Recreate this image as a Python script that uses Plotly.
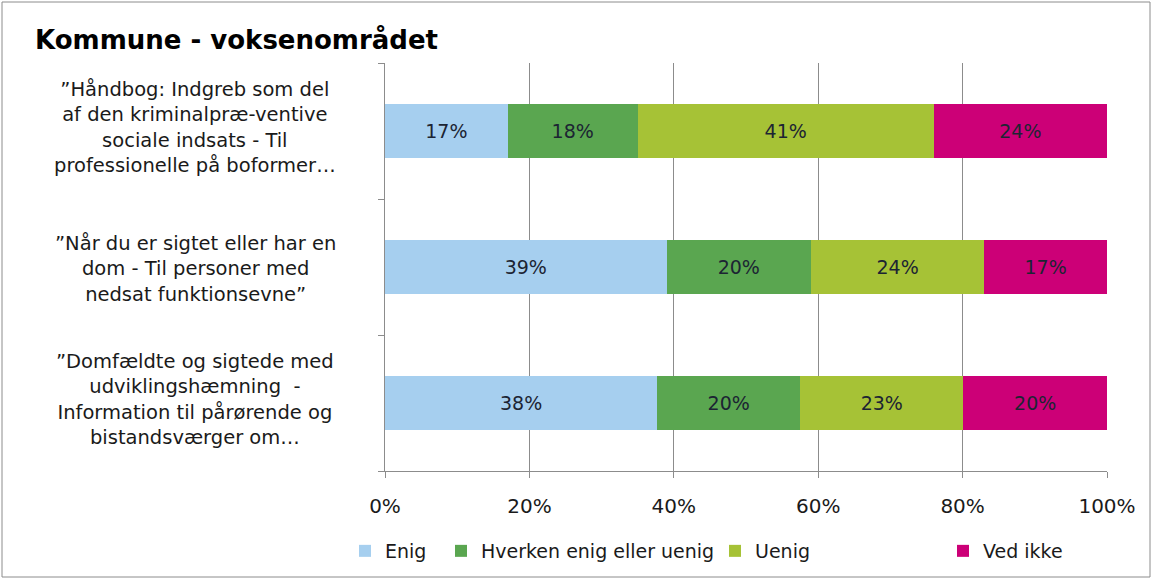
import plotly.graph_objects as go

# Survey statements (top to bottom) and answer shares in percent
categories = [
    "”Håndbog: Indgreb som del<br>af den kriminalpræ-ventive<br>sociale indsats - Til<br>professionelle på boformer…",
    "”Når du er sigtet eller har en<br>dom - Til personer med<br>nedsat funktionsevne”",
    "”Domfældte og sigtede med<br>udviklingshæmning  -<br>Information til pårørende og<br>bistandsværger om…",
]
series_names = ["Enig", "Hverken enig eller uenig", "Uenig", "Ved ikke"]
enig = [17, 39, 37.7]
hverken = [18, 20, 19.8]
uenig = [41, 24, 22.6]
ved_ikke = [24, 17, 19.9]
colors = ["#a6cfef", "#5aa650", "#a6c236", "#cc0077"]
x_ticks = [0, 20, 40, 60, 80, 100]

FONT = "DejaVu Sans"
W, H = 1158, 585
L, R, T, B = 385, 51, 63, 114
pw, ph = W - L - R, H - T - B

# each series gets its own legend box so the spacing can follow the original
legend_ids = ["legend", "legend2", "legend3", "legend4"]
legend_px = [345, 441, 715, 943]

ypos = [0, 1, 2]
fig = go.Figure()
for name, vals, col, lg in zip(series_names, [enig, hverken, uenig, ved_ikke], colors, legend_ids):
    fig.add_trace(go.Bar(
        name=name, y=ypos, x=vals, orientation="h",
        marker=dict(color=col, line=dict(width=0)),
        width=0.39,
        text=[f"{round(v)}%" for v in vals],
        textposition="inside", insidetextanchor="middle",
        textfont=dict(family=FONT, size=19, color="#1c2433"),
        legend=lg,
    ))

# category labels as centred multi-line annotations
for i, cat in enumerate(categories):
    n_lines = cat.count("<br>") + 1
    fig.add_annotation(
        x=(195 - L) / pw, xref="paper", y=i, yref="y",
        text=cat, showarrow=False, align="center",
        xanchor="center", yanchor="middle",
        yshift=4 if n_lines == 4 else -2,
        font=dict(family=FONT, size=19.5, color="#1a1a1a"),
    )

# outer chart border
fig.add_shape(
    type="rect", xref="paper", yref="paper",
    x0=(2 - L) / pw, x1=(1150 - L) / pw,
    y0=(H - B - 577) / ph, y1=(H - B - 2) / ph,
    line=dict(color="#8c8c8c", width=1), fillcolor="rgba(0,0,0,0)",
)

legend_style = dict(
    orientation="h", xanchor="left", yanchor="middle",
    y=(H - B - 551) / ph,
    font=dict(family=FONT, size=19, color="#1a1a1a"),
    bgcolor="rgba(0,0,0,0)",
)
legends = {lg: dict(legend_style, x=(px - L) / pw) for lg, px in zip(legend_ids, legend_px)}

fig.update_layout(
    barmode="stack",
    width=W, height=H,
    margin=dict(l=L, r=R, t=T, b=B),
    paper_bgcolor="white", plot_bgcolor="white",
    title=dict(text="<b>Kommune - voksenområdet</b>", x=35 / W, xanchor="left",
               y=1 - 40 / H, yanchor="middle",
               font=dict(family=FONT, size=26, color="#000000")),
    xaxis=dict(
        range=[0, 100], tickvals=x_ticks, ticktext=[f"{v}%" for v in x_ticks],
        showgrid=True, gridcolor="#8c8c8c", gridwidth=1,
        showline=True, linecolor="#8c8c8c", ticks="outside", ticklen=6,
        tickcolor="#8c8c8c", zeroline=False, ticklabelstandoff=11,
        tickfont=dict(family=FONT, size=20, color="#1a1a1a"),
    ),
    yaxis=dict(
        range=[2.5, -0.5], tickvals=[-0.5, 0.5, 1.5, 2.5], ticktext=["", "", "", ""],
        showgrid=False, showline=True, linecolor="#8c8c8c", ticks="outside",
        ticklen=6, tickcolor="#8c8c8c", zeroline=False,
    ),
    showlegend=True,
    **legends,
)

fig.write_html(
    "out.html",
    config={"displayModeBar": False},
    post_script="document.body.style.margin='0';",
)
